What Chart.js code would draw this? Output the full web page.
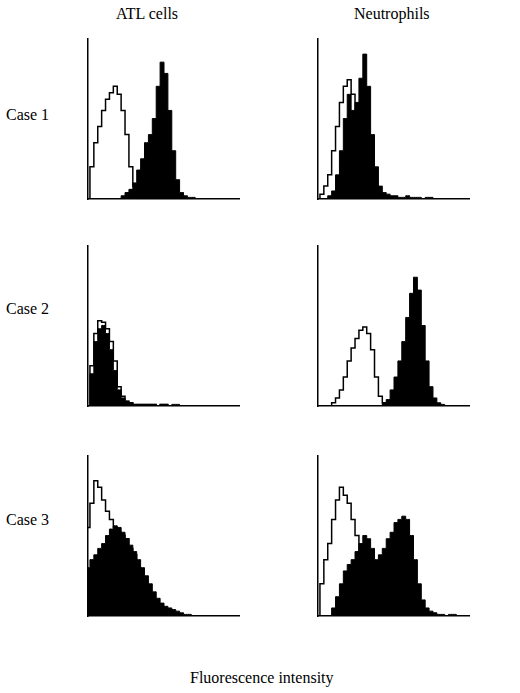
<!DOCTYPE html>
<html><head><meta charset="utf-8">
<script src="https://cdn.jsdelivr.net/npm/chart.js@4"></script>
<style>
body{margin:0;width:520px;height:693px;background:#fff;position:relative;color:#000;overflow:hidden}
.t{position:absolute;font-size:16px;white-space:nowrap;font-family:"Times New Roman","Liberation Serif","DejaVu Serif",serif}
.c{position:absolute}
</style></head><body>
<div class="t" style="left:116px;top:5px">ATL cells</div>
<div class="t" style="left:354px;top:5px">Neutrophils</div>
<div class="t" style="left:6px;top:106px">Case 1</div>
<div class="t" style="left:6px;top:300px">Case 2</div>
<div class="t" style="left:6px;top:511px">Case 3</div>
<div class="t" style="left:190px;top:669px">Fluorescence intensity</div>
<div id="wrap"></div>
<script>
const bins=[...Array(40).keys()];
const atl1Open =[0,20,35,45,55,62,66,70,65,55,40,20,8,3,0,0,0,0,0,0,0,0,0,0,0,0,0,0,0,0,0,0,0,0,0,0,0,0,0,0];
const atl1Fill =[0,0,0,0,0,0,0,0,0,2,4,6,10,18,25,35,40,50,70,85,78,55,30,12,4,2,1,1,0,0,0,0,0,0,0,0,0,0,0,0];
const neu1Open =[0,3,8,15,30,45,60,70,74,65,55,40,25,12,5,2,0,0,0,0,0,0,0,0,0,0,0,0,0,0,0,0,0,0,0,0,0,0,0,0];
const neu1Fill =[0,0,0,2,5,15,30,50,65,55,60,75,90,70,40,20,8,4,3,2,2,1,1,2,1,1,1,0,1,1,0,0,0,0,0,0,0,0,0,0];
const atl2Open =[0,25,45,53,52,48,40,28,12,6,3,2,1,1,1,1,1,1,0,1,1,0,0,0,0,0,0,0,0,0,0,0,0,0,0,0,0,0,0,0];
const atl2Fill =[0,20,40,48,50,45,35,22,10,5,3,2,1,1,1,1,1,1,0,1,1,0,1,1,0,0,0,0,0,0,0,0,0,0,0,0,0,0,0,0];
const neu2Open =[0,0,0,0,2,5,10,18,28,36,42,47,49,45,35,18,6,2,0,0,0,0,0,0,0,0,0,0,0,0,0,0,0,0,0,0,0,0,0,0];
const neu2Fill =[0,0,0,0,0,0,0,0,0,0,0,0,0,0,0,0,0,2,4,10,18,28,40,55,70,80,72,50,28,12,5,2,1,0,0,0,0,0,0,0];
const atl3Open =[55,70,84,80,72,65,60,55,52,50,48,42,38,30,22,15,10,6,4,2,1,1,0,0,0,0,0,0,0,0,0,0,0,0,0,0,0,0,0,0];
const atl3Fill =[30,35,38,42,45,50,54,56,55,52,48,44,40,35,30,25,20,15,11,8,6,5,4,3,2,1,1,0,0,0,0,0,0,0,0,0,0,0,0,0];
const neu3Open =[0,20,35,45,60,72,80,75,70,60,50,40,30,20,10,4,2,0,0,0,0,0,0,0,0,0,0,0,0,0,0,0,0,0,0,0,0,0,0,0];
const neu3Fill =[0,0,0,0,5,12,20,28,32,35,40,45,50,48,42,35,38,42,48,52,58,60,62,60,50,35,20,10,5,3,2,1,1,0,1,1,0,0,0,0];
const panels=[
 [88,38,atl1Open,atl1Fill],[318,38,neu1Open,neu1Fill],
 [88,245,atl2Open,atl2Fill],[318,245,neu2Open,neu2Fill],
 [88,455,atl3Open,atl3Fill],[318,455,neu3Open,neu3Fill]];
const wrap=document.getElementById('wrap');
panels.forEach(([l,t,o,f])=>{
 const d=document.createElement('div');d.className='c';
 d.style.cssText=`left:${l-8}px;top:${t}px;width:160px;height:169px`;
 const cv=document.createElement('canvas');d.appendChild(cv);wrap.appendChild(d);
 new Chart(cv,{type:'line',data:{labels:bins,datasets:[
  {data:f,borderColor:'#000',backgroundColor:'#000',fill:'origin',borderWidth:1,pointRadius:0,stepped:'middle'},
  {data:o,borderColor:'#000',fill:false,borderWidth:1.5,pointRadius:0,stepped:'middle'}]},
 options:{animation:false,responsive:true,maintainAspectRatio:false,layout:{padding:0},
  plugins:{legend:{display:false},tooltip:{enabled:false}},
  scales:{x:{offset:false,grid:{display:false},ticks:{display:false},border:{color:'#000',width:1.5}},
   y:{min:0,max:100,grid:{display:false},ticks:{display:false},border:{color:'#000',width:1.5}}}}});
});
</script></body></html>
